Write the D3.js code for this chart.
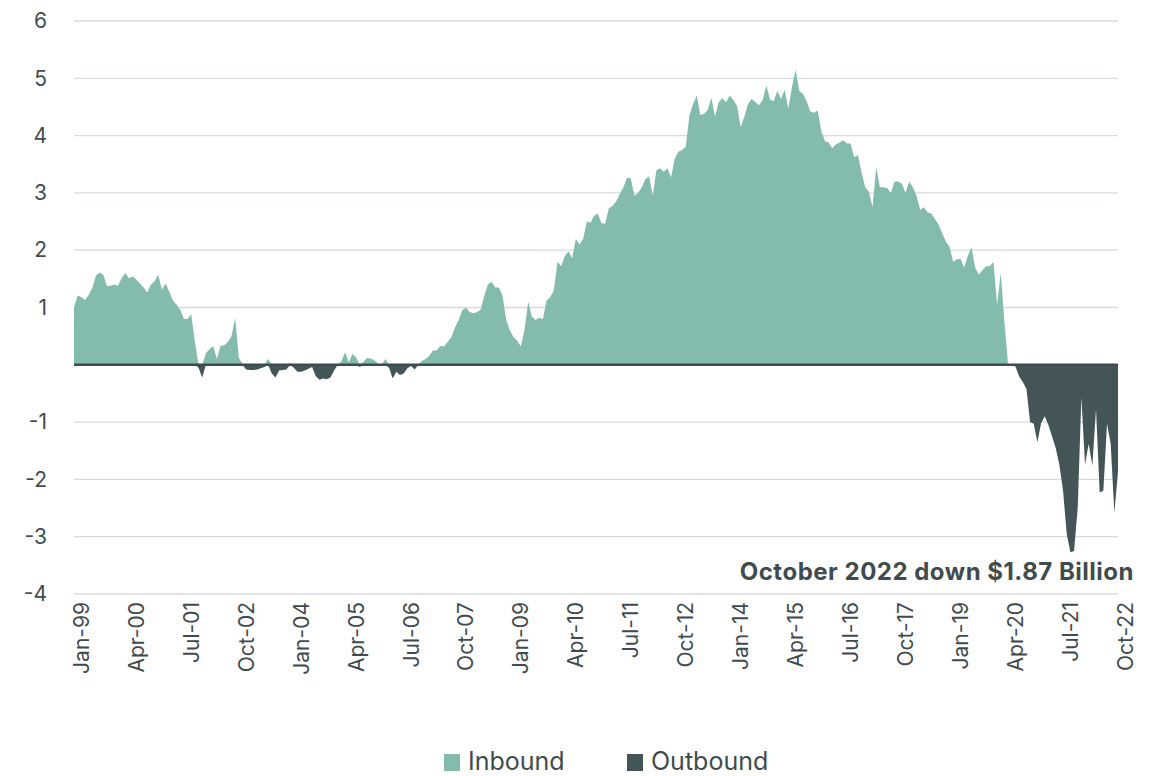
<!DOCTYPE html>
<html>
<head>
<meta charset="utf-8">
<script src="https://cdn.jsdelivr.net/npm/d3@7/dist/d3.min.js"></script>
<style>
  html, body { margin: 0; padding: 0; background: #ffffff; }
  svg { display: block; font-family: "Inter", "Open Sans", sans-serif; }
</style>
</head>
<body>
<svg id="chart" width="1161" height="776"></svg>
<script>
// Net monthly flows, Jan 1999 – Oct 2022 ($ billions)
const startYear = 1999;
const netFlow = [
  1.00, 1.21, 1.18, 1.13, 1.22, 1.34, 1.56, 1.61, 1.57, 1.37, 1.38, 1.40,
  1.38, 1.51, 1.60, 1.51, 1.54, 1.49, 1.42, 1.35, 1.26, 1.40, 1.46, 1.57,
  1.31, 1.42, 1.28, 1.12, 1.05, 0.96, 0.80, 0.80, 0.88, 0.40, -0.05, -0.22,
  0.20, 0.27, 0.33, 0.10, 0.33, 0.34, 0.40, 0.50, 0.82, 0.12, 0.02, -0.08,
  -0.09, -0.09, -0.08, -0.06, -0.04, 0.10, -0.15, -0.22, -0.10, -0.09, -0.08, 0.03,
  -0.05, -0.12, -0.12, -0.10, -0.07, -0.04, -0.20, -0.26, -0.24, -0.25, -0.22, -0.10,
  0.00, 0.06, 0.22, 0.04, 0.19, 0.13, -0.04, 0.05, 0.12, 0.11, 0.08, 0.02,
  0.00, 0.10, -0.05, -0.24, -0.12, -0.18, -0.15, -0.06, -0.02, -0.08, 0.00, 0.07,
  0.10, 0.16, 0.25, 0.25, 0.33, 0.32, 0.40, 0.48, 0.65, 0.78, 0.95, 1.00,
  0.92, 0.90, 0.92, 0.96, 1.20, 1.40, 1.45, 1.35, 1.35, 1.20, 0.78, 0.60,
  0.48, 0.42, 0.32, 0.62, 1.10, 0.84, 0.78, 0.82, 0.80, 1.12, 1.18, 1.30,
  1.80, 1.72, 1.90, 1.98, 1.86, 2.20, 2.10, 2.20, 2.50, 2.48, 2.60, 2.64,
  2.47, 2.46, 2.73, 2.77, 2.85, 2.98, 3.10, 3.27, 3.25, 2.95, 3.00, 3.10,
  3.24, 3.29, 2.95, 3.40, 3.43, 3.37, 3.43, 3.27, 3.60, 3.72, 3.75, 3.80,
  4.35, 4.55, 4.70, 4.36, 4.38, 4.45, 4.66, 4.33, 4.58, 4.65, 4.58, 4.70,
  4.62, 4.52, 4.15, 4.33, 4.55, 4.64, 4.58, 4.53, 4.62, 4.88, 4.63, 4.60,
  4.78, 4.64, 4.80, 4.47, 4.85, 5.15, 4.78, 4.73, 4.60, 4.42, 4.40, 4.44,
  4.08, 3.90, 3.88, 3.78, 3.85, 3.88, 3.92, 3.86, 3.86, 3.62, 3.66, 3.35,
  3.10, 3.02, 2.75, 3.45, 3.10, 3.10, 3.08, 3.00, 3.20, 3.20, 3.16, 3.00,
  3.20, 3.10, 2.95, 2.70, 2.75, 2.66, 2.64, 2.55, 2.45, 2.30, 2.15, 2.06,
  1.80, 1.84, 1.85, 1.70, 1.90, 2.05, 1.70, 1.57, 1.65, 1.72, 1.72, 1.80,
  1.05, 1.60, 0.74, 0.00, 0.00, -0.03, -0.20, -0.30, -0.42, -1.00, -1.03, -1.35,
  -1.02, -0.90, -1.05, -1.25, -1.45, -1.75, -2.20, -2.95, -3.27, -3.25, -2.50, -0.57,
  -1.74, -1.38, -1.76, -0.77, -2.23, -2.20, -1.03, -1.38, -2.58, -1.87
];

const tickLabels = [
  "Jan-99", "Apr-00", "Jul-01", "Oct-02", "Jan-04", "Apr-05", "Jul-06",
  "Oct-07", "Jan-09", "Apr-10", "Jul-11", "Oct-12", "Jan-14", "Apr-15",
  "Jul-16", "Oct-17", "Jan-19", "Apr-20", "Jul-21", "Oct-22"
];
const yTicks = [-4, -3, -2, -1, 0, 1, 2, 3, 4, 5, 6];
const seriesNames = ["Inbound", "Outbound"];
const seriesColors = ["#83bbad", "#435557"];
const annotation = "October 2022 down $1.87 Billion";

// Month categories, e.g. "Jan-99"
const fmt = d3.timeFormat("%b-%y");
const months = netFlow.map((_, i) => fmt(new Date(startYear, i, 1)));
const rows = months.map((m, i) => ({
  month: m,
  inbound: Math.max(netFlow[i], 0),
  outbound: Math.min(netFlow[i], 0)
}));

const svg = d3.select("#chart");
const plot = { left: 74, right: 1118, top: 21, bottom: 594 };
const textColor = "#3f4b4d";

const x = d3.scalePoint().domain(months).range([plot.left, plot.right]);
const y = d3.scaleLinear().domain([-4, 6]).range([plot.bottom, plot.top]);

// Horizontal gridlines
svg.append("g")
  .selectAll("line")
  .data(yTicks.filter(d => d !== 0))
  .join("line")
  .attr("x1", plot.left).attr("x2", plot.right)
  .attr("y1", d => y(d)).attr("y2", d => y(d))
  .attr("stroke", "#d6dcdc")
  .attr("stroke-width", 1.3);

// Areas
const inboundArea = d3.area()
  .x(d => x(d.month)).y0(y(0)).y1(d => y(d.inbound));
const outboundArea = d3.area()
  .x(d => x(d.month)).y0(y(0)).y1(d => y(d.outbound));

svg.append("path").datum(rows)
  .attr("d", inboundArea).attr("fill", seriesColors[0]);
svg.append("path").datum(rows)
  .attr("d", outboundArea).attr("fill", seriesColors[1]);

// Zero baseline
svg.append("line")
  .attr("x1", plot.left).attr("x2", plot.right)
  .attr("y1", y(0)).attr("y2", y(0))
  .attr("stroke", "#3d4d4f")
  .attr("stroke-width", 2.5);

// Y axis labels (plain hyphen for negatives, zero left blank)
const yAxis = d3.axisLeft(y)
  .tickValues(yTicks)
  .tickSize(0)
  .tickPadding(0)
  .tickFormat(d => d === 0 ? "" : String(d));
const gy = svg.append("g").attr("transform", "translate(47,0)").call(yAxis);
gy.select(".domain").remove();
gy.selectAll("text")
  .attr("fill", textColor)
  .style("font-size", "21px")
  .style("font-family", "Inter, sans-serif");

// X axis labels, rotated
const xAxis = d3.axisBottom(x)
  .tickValues(tickLabels)
  .tickSize(0)
  .tickPadding(0);
const gx = svg.append("g").attr("transform", `translate(0,${plot.bottom + 8})`).call(xAxis);
gx.select(".domain").remove();
gx.selectAll("text")
  .attr("fill", textColor)
  .style("font-size", "21px")
  .style("font-family", "Inter, sans-serif")
  .attr("text-anchor", "end")
  .attr("transform", "translate(7,0) rotate(-90)")
  .attr("x", 0)
  .attr("y", 0)
  .attr("dx", 0)
  .attr("dy", "0.35em");

// Annotation for the latest month
svg.append("text")
  .attr("x", 1134)
  .attr("y", 580)
  .attr("text-anchor", "end")
  .attr("fill", textColor)
  .style("font-size", "24px")
  .style("font-weight", "700")
  .style("letter-spacing", "0.5px")
  .style("font-family", "Inter, sans-serif")
  .text(annotation);

// Legend
const legend = svg.append("g");
const legendX = [444, 627];
seriesNames.forEach((name, k) => {
  legend.append("rect")
    .attr("x", legendX[k]).attr("y", 754)
    .attr("width", 16).attr("height", 17)
    .attr("fill", seriesColors[k]);
  legend.append("text")
    .attr("x", legendX[k] + 24).attr("y", 770)
    .attr("fill", textColor)
    .style("font-size", "25px")
    .style("font-family", "Inter, sans-serif")
    .text(name);
});
</script>
</body>
</html>
